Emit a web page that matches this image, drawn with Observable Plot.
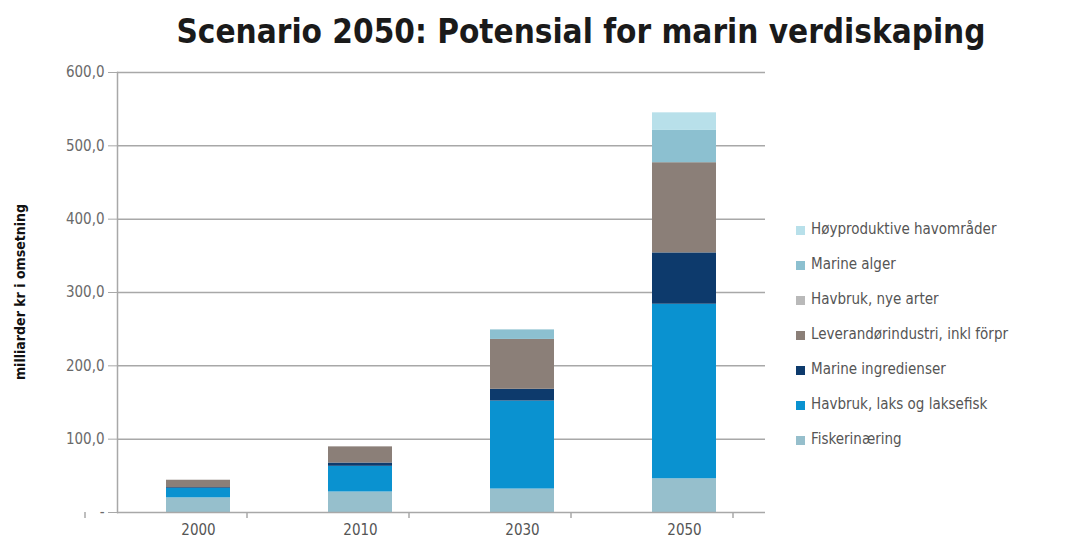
<!DOCTYPE html>
<html>
<head>
<meta charset="utf-8">
<script src="https://cdn.jsdelivr.net/npm/d3@7"></script>
<script src="https://cdn.jsdelivr.net/npm/@observablehq/plot@0.6"></script>
<style>
  html, body { margin: 0; padding: 0; background: #fff; }
  #wrap { position: relative; width: 1082px; height: 547px; overflow: hidden; font-family: "DejaVu Sans Condensed", "Liberation Sans Narrow", sans-serif; }
  #title { position: absolute; left: 0; width: 1162px; top: 12px; text-align: center; font-size: 33px; font-weight: bold; color: #1a1a1a; white-space: nowrap; }
  #legend { position: absolute; left: 796px; top: 220px; font-size: 15px; color: #555; }
  #legend .item { height: 35px; display: flex; align-items: flex-start; white-space: nowrap; }
  #legend .sw { width: 9px; height: 9px; margin-right: 6px; margin-top: 6px; flex: none; }
  #ylabel { position: absolute; left: 20px; top: 292px; transform: translate(-50%, -50%) rotate(-90deg); font-size: 14px; font-weight: bold; color: #111; white-space: nowrap; }
</style>
</head>
<body>
<div id="wrap">
  <div id="chart"></div>
  <div id="title"></div>
  <div id="ylabel"></div>
  <div id="legend"></div>
</div>
<script>
const titleText = "Scenario 2050: Potensial for marin verdiskaping";
const yLabel = "milliarder kr i omsetning";
const years = ["2000", "2010", "2030", "2050"];
const seriesNames = [
  "Fiskerinæring",
  "Havbruk, laks og laksefisk",
  "Marine ingredienser",
  "Leverandørindustri, inkl förpr",
  "Havbruk, nye arter",
  "Marine alger",
  "Høyproduktive havområder"
];
const fiskeri = [20, 28, 32, 46];
const havbrukLaks = [13, 35, 120, 238];
const marineIngr = [1, 4.5, 16, 70];
const leverandor = [10, 22, 68, 123];
const havbrukNye = [0, 0, 0, 0];
const marineAlger = [0, 0, 13, 44];
const hoyprod = [0, 0, 0, 24];
const colors = ["#96bfcc", "#0a92d0", "#0d3a6c", "#8b7f78", "#b9b9b9", "#8cc0d0", "#b8e0ea"];
const yTicks = [0, 100, 200, 300, 400, 500, 600];

const seriesValues = [fiskeri, havbrukLaks, marineIngr, leverandor, havbrukNye, marineAlger, hoyprod];
const data = [];
seriesNames.forEach((s, i) => years.forEach((yr, j) => data.push({year: yr, series: s, value: seriesValues[i][j]})));

const plot = Plot.plot({
  width: 1082,
  height: 547,
  marginLeft: 117,
  marginRight: 317,
  marginTop: 72,
  marginBottom: 35,
  style: {fontFamily: '"DejaVu Sans Condensed", "Liberation Sans Narrow", sans-serif', fontSize: "15px", color: "#666"},
  x: {domain: years, paddingInner: 0.605, paddingOuter: 0.3025, label: null},
  y: {domain: [0, 600], label: null},
  color: {domain: seriesNames, range: colors},
  marks: [
    Plot.gridY(yTicks.filter(d => d > 0), {stroke: "#a8a8a8", strokeOpacity: 1, strokeWidth: 1.5}),
    Plot.barY(data, {x: "year", y: "value", fill: "series", order: seriesNames}),
    Plot.frame({anchor: "left", stroke: "#a8a8a8", strokeWidth: 1.5}),
    Plot.ruleY([0], {stroke: "#a8a8a8", strokeWidth: 1.5}),
    Plot.axisY(yTicks, {tickSize: 9, tickPadding: 4, stroke: "#a8a8a8", fill: "#6a6a6a",
      tickFormat: d => d === 0 ? "-" : d.toFixed(1).replace(".", ",")}),
    Plot.axisX({tickSize: 0, tickPadding: 12, fill: "#555"})
  ]
});
document.getElementById("chart").appendChild(plot);

// x-axis boundary ticks from the band scale
const xs = plot.scale("x");
const ys = plot.scale("y");
const svg = d3.select(plot);
const bounds = years.map(y => xs.apply(y) - xs.step / 2);
bounds.push(xs.apply(years[years.length - 1]) + xs.step / 2);
svg.append("g").selectAll("line").data(bounds).join("line")
  .attr("x1", d => d).attr("x2", d => d)
  .attr("y1", ys.apply(0)).attr("y2", ys.apply(0) + 6)
  .attr("stroke", "#a8a8a8").attr("stroke-width", 1.5);

document.getElementById("title").textContent = titleText;
document.getElementById("ylabel").textContent = yLabel;
const leg = d3.select("#legend");
const legOrder = seriesNames.map((l, i) => ({label: l, color: colors[i]})).reverse();
legOrder.forEach(d => {
  const it = leg.append("div").attr("class", "item");
  it.append("div").attr("class", "sw").style("background", d.color);
  it.append("div").text(d.label);
});
</script>
</body>
</html>
